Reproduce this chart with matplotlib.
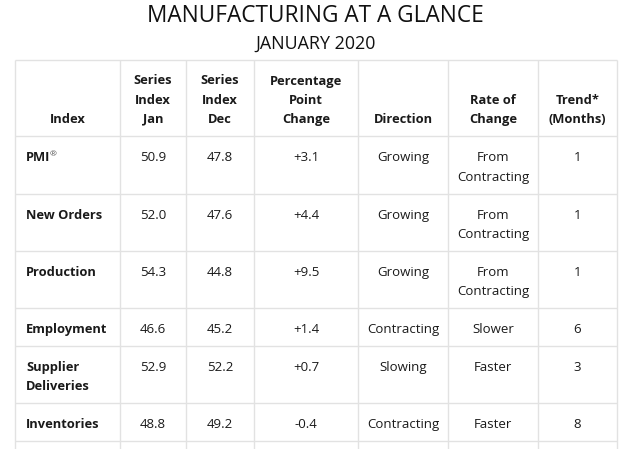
import matplotlib
matplotlib.use("Agg")
import matplotlib.pyplot as plt

title = "MANUFACTURING AT A GLANCE"
subtitle = "JANUARY 2020"

headers = ["Index", "Series\nIndex\nJan", "Series\nIndex\nDec", "Percentage\nPoint\nChange",
           "Direction", "Rate of\nChange", "Trend*\n(Months)"]
index_names = ["PMI", "New Orders", "Production", "Employment", "Supplier\nDeliveries", "Inventories"]
series_jan = [50.9, 52.0, 54.3, 46.6, 52.9, 48.8]
series_dec = [47.8, 47.6, 44.8, 45.2, 52.2, 49.2]
direction = ["Growing", "Growing", "Growing", "Contracting", "Slowing", "Contracting"]
rate_of_change = ["From\nContracting", "From\nContracting", "From\nContracting", "Slower", "Faster", "Faster"]
trend_months = [1, 1, 1, 6, 3, 8]

# layout (pixels)
W, H = 629, 449
col_edges = [15, 120, 186, 254, 358, 448, 538, 617]
table_top = 60
line_h = 19.2
pad = 9.4
text_dy = 2.0
grid_color = "#e2e2e2"
text_color = "#1a1a1a"
font = "Open Sans"
fs_body = 9.5
fs_bold = 9.3

fig = plt.figure(figsize=(W / 100, H / 100), dpi=100)
ax = fig.add_axes([0, 0, 1, 1])
ax.set_xlim(0, W)
ax.set_ylim(H, 0)
ax.axis("off")

ax.text(W / 2 + 1, 15.5, title, ha="center", va="center", fontsize=16.3,
        family=font, color="#111111")
ax.text(W / 2 + 1, 44, subtitle, ha="center", va="center", fontsize=12.9,
        family=font, color="#111111")

rows = []
for i in range(len(index_names)):
    change = series_jan[i] - series_dec[i]
    rows.append([index_names[i], f"{series_jan[i]:.1f}", f"{series_dec[i]:.1f}",
                 f"{change:+.1f}", direction[i], rate_of_change[i], str(trend_months[i])])

centers = [(a + b) / 2 for a, b in zip(col_edges[:-1], col_edges[1:])]

# header
n_head = max(h.count("\n") + 1 for h in headers)
head_bottom = table_top + 2 * pad + n_head * line_h
for j, h in enumerate(headers):
    lines = h.split("\n")
    for k, ln in enumerate(lines):
        y = head_bottom - pad - line_h / 2 - (len(lines) - 1 - k) * line_h + text_dy
        ax.text(centers[j], y, ln, ha="center", va="center", fontsize=fs_bold,
                fontweight="bold", family=font, color=text_color)

# body
row_lines = [table_top, head_bottom]
y0 = head_bottom
pmi_text = None
for r in rows:
    n = max(c.count("\n") + 1 for c in r)
    for j, cell in enumerate(r):
        for k, ln in enumerate(cell.split("\n")):
            y = y0 + pad + line_h / 2 + k * line_h + text_dy + 0.5
            if j == 0:
                t = ax.text(col_edges[0] + 11, y, ln, ha="left", va="center", fontsize=fs_bold,
                            fontweight="bold", family=font, color=text_color)
                if ln == "PMI":
                    pmi_text = t
            else:
                ax.text(centers[j], y, ln, ha="center", va="center", fontsize=fs_body,
                        family=font, color=text_color)
    y0 += 2 * pad + n * line_h
    row_lines.append(y0)

# grid
for y in row_lines:
    ax.plot([col_edges[0], col_edges[-1]], [y, y], color=grid_color, lw=1.0,
            solid_capstyle="butt")
for x in col_edges:
    ax.plot([x, x], [table_top, H + 5], color=grid_color, lw=1.0, solid_capstyle="butt")

# registered mark after PMI
fig.canvas.draw()
bb = pmi_text.get_window_extent().transformed(ax.transData.inverted())
ax.text(bb.x1 - 0.5, bb.y1 + 3, "®", ha="left", va="center", fontsize=6,
        family=font, color="#555555")

fig.savefig("out.png", dpi=100)
